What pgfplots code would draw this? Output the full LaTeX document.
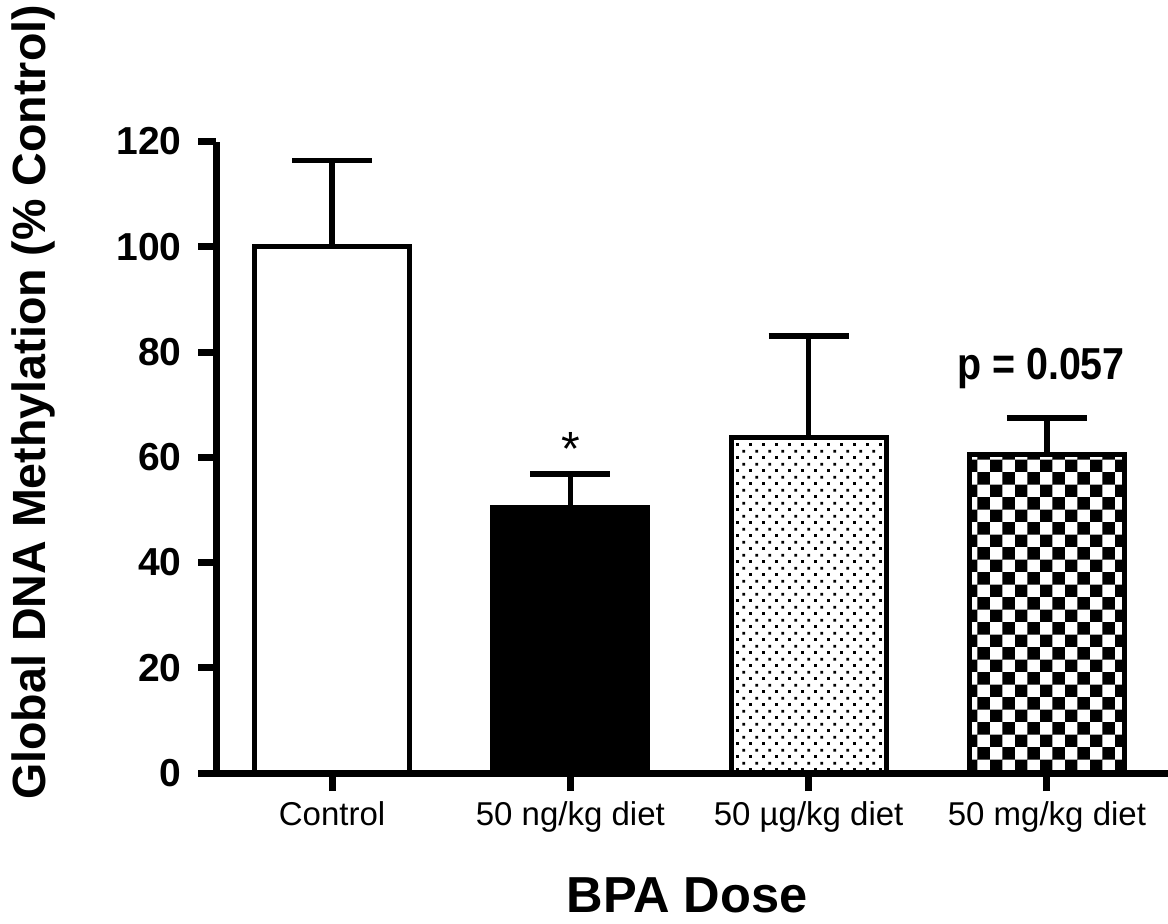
\documentclass[border=0pt]{standalone}
\usepackage{pgfplots}
\pgfplotsset{compat=1.18}
\usetikzlibrary{patterns}
\usepackage{fontspec}
\setmainfont{Liberation Sans}
\pgfdeclarepatternformonly{bigchecker}{\pgfpointorigin}{\pgfqpoint{12.7pt}{12.7pt}}{\pgfqpoint{12.7pt}{12.7pt}}{%
  \pgfpathrectangle{\pgfpointorigin}{\pgfqpoint{6.35pt}{6.35pt}}%
  \pgfpathrectangle{\pgfqpoint{6.35pt}{6.35pt}}{\pgfqpoint{6.35pt}{6.35pt}}%
  \pgfusepath{fill}}
\pgfdeclarepatternformonly{finedots}{\pgfpointorigin}{\pgfqpoint{6.35pt}{6.35pt}}{\pgfqpoint{6.35pt}{6.35pt}}{%
  \pgfpathrectangle{\pgfqpoint{0.05pt}{0.05pt}}{\pgfqpoint{1.4pt}{1.4pt}}%
  \pgfpathrectangle{\pgfqpoint{3.225pt}{3.225pt}}{\pgfqpoint{1.4pt}{1.4pt}}%
  \pgfusepath{fill}}
\pgfplotsset{mybar/.style={ybar, bar shift=0pt, bar width=0.65, draw=black, line width=2.6pt,
  error bars/.cd, y dir=plus, y explicit, error mark=|,
  error bar style={line width=2.8pt, black},
  error mark options={line width=2.8pt, mark size=20pt, black}}}
\begin{document}
\begin{tikzpicture}
\begin{axis}[
  scale only axis, width=476pt, height=315.75pt,
  xmin=-0.487, xmax=3.508, ymin=0, ymax=120,
  clip=false,
  axis x line*=bottom, axis y line*=left,
  axis line style={line width=3.5pt, black},
  ytick={0,20,40,60,80,100,120}, xtick={0,1,2,3},
  xticklabels={Control,50 ng/kg diet,50 µg/kg diet,50 mg/kg diet},
  tick align=outside, major tick length=9pt,
  tick style={line width=3.5pt, black},
  /pgf/number format/assume math mode=true,
  yticklabel style={font=\bfseries\fontsize{19.5}{20}\selectfont, inner sep=0pt, anchor=east, xshift=-8pt},
  xticklabel style={font=\fontsize{16.5}{18}\selectfont, inner sep=0pt, anchor=base, yshift=-17pt},
  xlabel={BPA Dose},
  xlabel style={at={(rel axis cs:0.4948,-0.2201)}, anchor=base, font=\bfseries\fontsize{25.3}{28}\selectfont, inner sep=0pt},
  ylabel={Global DNA Methylation (\% Control)},
  ylabel style={at={(rel axis cs:-0.1796,0.587)}, anchor=base, font=\bfseries\fontsize{23.3}{26}\selectfont, inner sep=0pt},
]
\addplot[fill=white, mybar] coordinates {(0,100) +- (0,16.4)};
\addplot[fill=black, mybar] coordinates {(1,50.5) +- (0,6.3)};
\addplot[pattern=finedots, mybar] coordinates {(2,63.8) +- (0,19.2)};
\addplot[pattern=bigchecker, mybar] coordinates {(3,60.6) +- (0,6.9)};
\node[anchor=base, font=\fontsize{24}{26}\selectfont, inner sep=0pt] at (axis cs:1,58.5) {*};
\node[anchor=base, font=\bfseries\fontsize{22.4}{24}\selectfont, inner sep=0pt, xscale=0.88] at (axis cs:2.975,74.7) {p = 0.057};
\coordinate (bl) at (rel axis cs:-0.2269,-0.2375);
\coordinate (tr) at (rel axis cs:1,1.2241);
\end{axis}
\pgfresetboundingbox
\useasboundingbox (bl) rectangle (tr);
\end{tikzpicture}
\end{document}
